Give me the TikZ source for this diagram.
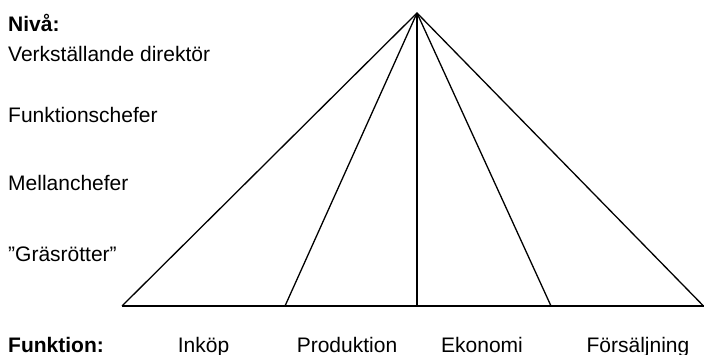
\documentclass[tikz,border=0pt]{standalone}
\usepackage{fontspec}
\setmainfont{Liberation Sans}
\begin{document}
\begin{tikzpicture}[x=1pt,y=-1pt,
  lbl/.style={anchor=base west,inner sep=0pt,font=\fontsize{21}{24}\selectfont},
  fn/.style={anchor=base,inner sep=0pt,font=\fontsize{21}{24}\selectfont},
  edge/.style={line width=1.3pt,black}]
\useasboundingbox (0,0) rectangle (704,355);
\coordinate (apex) at (417,13);
\coordinate (b0) at (122,306);
\coordinate (b1) at (285,306);
\coordinate (b2) at (417,306);
\coordinate (b3) at (551,306);
\coordinate (b4) at (703.5,306);
\draw[edge,line join=miter] (b0) -- (apex) -- (b4);
\draw[edge] (b0) -- (b4);
\draw[edge] (apex) -- (b1);
\draw[edge] (apex) -- (b2);
\draw[edge] (apex) -- (b3);
\node[lbl,font=\fontsize{21}{24}\selectfont\bfseries] (niva) at (8,32) {Nivå:};
\node[lbl] (vd) at (8,62) {Verkställande direktör};
\node[lbl] (fc) at (8,123) {Funktionschefer};
\node[lbl] (mc) at (8,191) {Mellanchefer};
\node[lbl] (gr) at (8,262) {”Gräsrötter”};
\node[lbl,font=\fontsize{21}{24}\selectfont\bfseries] (fk) at (8,352) {Funktion:};
\node[fn] (ink) at (203.5,352) {Inköp};
\node[fn] (prod) at (347,352) {Produktion};
\node[fn] (eko) at (482,352) {Ekonomi};
\node[fn] (fors) at (638,352) {Försäljning};
\end{tikzpicture}
\end{document}
